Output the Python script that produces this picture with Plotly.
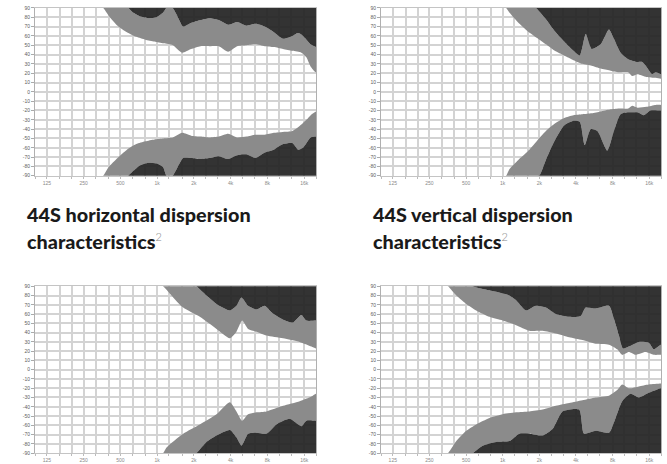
import plotly.graph_objects as go

# ---------------- axis ticks ----------------
FREQ_GRID = [100, 125, 160, 200, 250, 315, 400, 500, 630, 800, 1000, 1250, 1600, 2000,
             2500, 3150, 4000, 5000, 6300, 8000, 10000, 12500, 16000, 20000]
FREQ_TICKS = [125, 250, 500, 1000, 2000, 4000, 8000, 16000]
FREQ_LABELS = ["125", "250", "500", "1k", "2k", "4k", "8k", "16k"]
ANGLE_TICKS = [90, 80, 70, 60, 50, 40, 30, 20, 10, 0, -10, -20, -30, -40, -50, -60, -70, -80, -90]
ANGLE_LABELS = ["90", "80", "70", "60", "50", "40", "30", "20", "10", "0", "-10", "-20",
                "-30", "-40", "-50", "-60", "-70", "-80", "-90"]

CAPTIONS = [("44S horizontal dispersion", "characteristics", "2"),
            ("44S vertical dispersion", "characteristics", "2")]

# ---------------- contour boundaries (Hz, degrees) ----------------
# inner = white/grey edge, outer = grey/dark edge
TL_UP_IN = [(362, 90), (400, 82), (474, 71), (566, 64), (675, 59), (800, 56), (952, 54), (1129, 52),
            (1345, 50), (1600, 42), (1900, 46), (2265, 49), (2683, 49), (3200, 49), (3817, 43),
            (4518, 49), (5389, 50), (6383, 51), (7611, 49), (9020, 48), (10750, 46), (12820, 44),
            (15180, 42), (16680, 37), (18100, 27), (20000, 21)]
TL_UP_OUT = [(580, 90), (637, 85), (722, 81), (846, 79), (990, 80), (1121, 85), (1194, 90), (1337, 90),
             (1442, 83), (1635, 70), (1913, 74), (2265, 77), (2700, 79), (3200, 77), (3817, 72),
             (4518, 75), (5389, 71), (6383, 73), (7611, 70), (9020, 64), (10750, 57), (12820, 60),
             (14260, 63), (15670, 60), (18100, 51), (20000, 48)]
TL_LO_IN = [(362, -90), (400, -81), (474, -71), (566, -62), (675, -56), (800, -53), (952, -51),
            (1129, -50), (1345, -49), (1600, -44), (1900, -47), (2265, -48), (2683, -49), (3200, -48),
            (3817, -45), (4518, -49), (5389, -48), (6383, -46), (7611, -46), (9020, -44), (10750, -43),
            (12820, -42), (15180, -35), (16680, -30), (18100, -25), (20000, -21)]
TL_LO_OUT = [(580, -90), (637, -85), (722, -79), (846, -76), (990, -77), (1121, -81), (1194, -90),
             (1337, -90), (1442, -83), (1635, -71), (1913, -71), (2265, -72), (2700, -71), (3200, -69),
             (3817, -72), (4518, -68), (5389, -67), (6383, -71), (7611, -65), (9020, -62), (10750, -56),
             (12820, -55), (14260, -62), (15670, -60), (18100, -49), (20000, -48)]

TR_UP_IN = [(1067, 90), (1135, 85), (1345, 74), (1604, 65), (1903, 58), (2265, 51), (2683, 44),
            (3200, 39), (3817, 34), (4518, 30), (5389, 28), (6383, 25), (7611, 23), (9020, 21),
            (10750, 21), (11590, 17), (12820, 19), (15180, 16), (18100, 15), (20000, 14)]
TR_UP_OUT = [(1877, 90), (2265, 78), (2683, 65), (3200, 54), (3817, 44), (4299, 39), (4813, 62),
             (5389, 46), (6383, 51), (7470, 67), (8208, 57), (9305, 42), (10750, 35), (12820, 32),
             (14000, 32), (15180, 27), (16890, 19), (18100, 21), (20000, 19)]
TR_LO_IN = [(1067, -90), (1135, -83), (1345, -73), (1604, -64), (1903, -53), (2265, -42), (2683, -34),
            (3200, -28), (3817, -25), (4518, -24), (5389, -23), (6383, -21), (7611, -19), (9020, -18),
            (10750, -18), (11590, -15), (12820, -17), (15180, -16), (18100, -14), (20000, -14)]
TR_LO_OUT = [(2000, -90), (2265, -73), (2683, -52), (3200, -36), (3817, -31), (4299, -32), (4724, -57),
             (5290, -40), (5997, -42), (7240, -63), (8208, -42), (9305, -24), (10750, -22), (12820, -22),
             (14440, -25), (16370, -20), (20000, -20)]

BL_UP_IN = [(1121, 90), (1354, 78), (1635, 67), (2237, 57), (3064, 44), (3936, 34), (4464, 41),
            (4966, 53), (5561, 44), (6506, 41), (7853, 37), (10750, 34), (14710, 30), (18330, 25),
            (20000, 23)]
BL_UP_OUT = [(2101, 90), (2537, 80), (3064, 71), (3936, 64), (4464, 69), (4905, 78), (5561, 69),
             (6506, 65), (7611, 69), (8629, 62), (10750, 54), (12980, 51), (15180, 59), (16680, 53),
             (20000, 53)]
BL_LO_IN = [(1121, -90), (1194, -84), (1635, -69), (2237, -59), (3064, -48), (3936, -35), (4464, -45),
            (4966, -55), (5561, -48), (6506, -46), (7853, -45), (10750, -39), (14710, -34), (18330, -29),
            (20000, -26)]
BL_LO_OUT = [(2101, -90), (2537, -78), (3064, -71), (3936, -65), (4464, -73), (4905, -82), (5561, -69),
             (6506, -68), (7853, -69), (9483, -59), (12190, -53), (15180, -61), (16680, -55), (20000, -55)]

BR_UP_IN = [(356, 90), (416, 80), (502, 71), (606, 64), (779, 57), (1001, 53), (1288, 48), (1655, 42),
            (2127, 42), (2736, 39), (3518, 35), (4518, 32), (5812, 28), (7470, 27), (8738, 22), (9600, 16),
            (10880, 19), (12340, 16), (14900, 19), (17440, 16), (20000, 16)]
BR_UP_OUT = [(569, 90), (687, 87), (883, 84), (1135, 80), (1288, 75), (1554, 64), (1877, 69), (2265, 67),
             (2736, 60), (3518, 57), (4381, 58), (4813, 67), (5812, 66), (7470, 69), (8208, 55), (9020, 37),
             (9720, 23), (10880, 25), (13150, 30), (15870, 29), (17440, 22), (20000, 27)]
BR_LO_IN = [(356, -90), (416, -77), (502, -66), (606, -59), (779, -52), (1001, -48), (1288, -46),
            (1655, -45), (2127, -43), (2736, -39), (3518, -36), (4518, -33), (5812, -30), (7470, -28),
            (8738, -22), (9600, -16), (10880, -20), (13150, -18), (15870, -16), (20000, -15)]
BR_LO_OUT = [(569, -90), (687, -82), (883, -78), (1135, -77), (1371, -69), (1655, -69), (2127, -71),
             (2569, -64), (3102, -45), (4246, -43), (4663, -69), (5812, -66), (7470, -68), (8470, -52),
             (9600, -34), (11240, -26), (13150, -30), (15870, -25), (20000, -20)]

PANELS = [
    (TL_UP_IN, TL_UP_OUT, TL_LO_IN, TL_LO_OUT),
    (TR_UP_IN, TR_UP_OUT, TR_LO_IN, TR_LO_OUT),
    (BL_UP_IN, BL_UP_OUT, BL_LO_IN, BL_LO_OUT),
    (BR_UP_IN, BR_UP_OUT, BR_LO_IN, BR_LO_OUT),
]

# ---------------- styling ----------------
W, H = 667, 464
GREY = "#8b8b8b"
DARK = "rgba(36,36,36,0.93)"
GRID = "#d3d3d3"
DOMAINS = [  # (x0, x1, y0, y1) in pixels from top-left
    (35, 316, 5, 175),
    (381, 661, 5, 175),
    (35, 316, 287, 456),
    (381, 661, 287, 456),
]
XEXT, YEXT = 26000, 100  # closing points beyond the visible plot edge


def polys(inner, outer, sign):
    fi = [p[0] for p in inner]
    di = [p[1] for p in inner]
    fo = [p[0] for p in outer]
    do = [p[1] for p in outer]
    e = YEXT * sign
    gx = [fi[0] * 0.8] + fi + [XEXT, XEXT] + fo[::-1] + [fo[0] * 0.8]
    gy = [e] + di + [di[-1], do[-1]] + do[::-1] + [e]
    dx = [fo[0] * 0.8] + fo + [XEXT, XEXT]
    dy = [e] + do + [do[-1], e]
    return (gx, gy), (dx, dy)


fig = go.Figure()
grid_text = [FREQ_LABELS[FREQ_TICKS.index(f)] if f in FREQ_TICKS else "" for f in FREQ_GRID]

for i, (uin, uout, lin, lout) in enumerate(PANELS):
    n = "" if i == 0 else str(i + 1)
    for inner, outer, s in ((uin, uout, 1), (lin, lout, -1)):
        (gx, gy), (dx, dy) = polys(inner, outer, s)
        fig.add_trace(go.Scatter(x=gx, y=gy, mode="lines", fill="toself", fillcolor=GREY,
                                 line=dict(width=0, shape="spline", smoothing=0.6),
                                 hoverinfo="skip", showlegend=False, xaxis="x" + n, yaxis="y" + n))
        fig.add_trace(go.Scatter(x=dx, y=dy, mode="lines", fill="toself", fillcolor=DARK,
                                 line=dict(width=0, shape="spline", smoothing=0.6),
                                 hoverinfo="skip", showlegend=False, xaxis="x" + n, yaxis="y" + n))
    x0, x1, y0, y1 = DOMAINS[i]
    fig.layout["xaxis" + n] = dict(
        domain=[x0 / W, x1 / W], anchor="y" + n, type="log", range=[2, 4.30103],
        tickmode="array", tickvals=FREQ_GRID, ticktext=grid_text,
        showgrid=True, gridcolor=GRID, gridwidth=2, zeroline=False,
        showline=True, linecolor="#c4c4c4", linewidth=1, mirror=True,
        ticks="outside", ticklen=2, tickcolor="#bbbbbb",
        tickfont=dict(size=5, color="#8a8a8a", family="Liberation Sans"),
        fixedrange=True)
    fig.layout["yaxis" + n] = dict(
        domain=[1 - y1 / H, 1 - y0 / H], anchor="x" + n, range=[-90, 90],
        tickmode="array", tickvals=ANGLE_TICKS, ticktext=ANGLE_LABELS,
        showgrid=True, gridcolor=GRID, gridwidth=2, zeroline=False,
        showline=True, linecolor="#b0b0b0", linewidth=1, mirror=True,
        ticks="outside", ticklen=3, tickcolor="#aaaaaa",
        tickfont=dict(size=5, color="#606060", family="Liberation Sans"),
        fixedrange=True)

annotations = []
for (l1, l2, sup), xpx in zip(CAPTIONS, (25, 371)):
    annotations.append(dict(text=l1, x=xpx / W, y=1 - 214 / H, xref="paper", yref="paper",
                            xanchor="left", yanchor="middle", showarrow=False,
                            font=dict(family="Lato", size=19.8, color="#1a1a1a", weight=900)))
    annotations.append(dict(text=l2 + "<sup><span style='font-weight:300;color:#858585;font-size:11px'>"
                                 + sup + "</span></sup>",
                            x=xpx / W, y=1 - 241 / H, xref="paper", yref="paper",
                            xanchor="left", yanchor="middle", showarrow=False,
                            font=dict(family="Lato", size=19.8, color="#1a1a1a", weight=900)))

fig.update_layout(width=W, height=H, margin=dict(l=0, r=0, t=0, b=0), autosize=False,
                  paper_bgcolor="white", plot_bgcolor="white", annotations=annotations,
                  showlegend=False, hovermode=False, dragmode=False)

fig.write_html("out.html", config={"displayModeBar": False, "staticPlot": True},
               post_script="document.body.style.margin='0';document.body.style.overflow='hidden';")
